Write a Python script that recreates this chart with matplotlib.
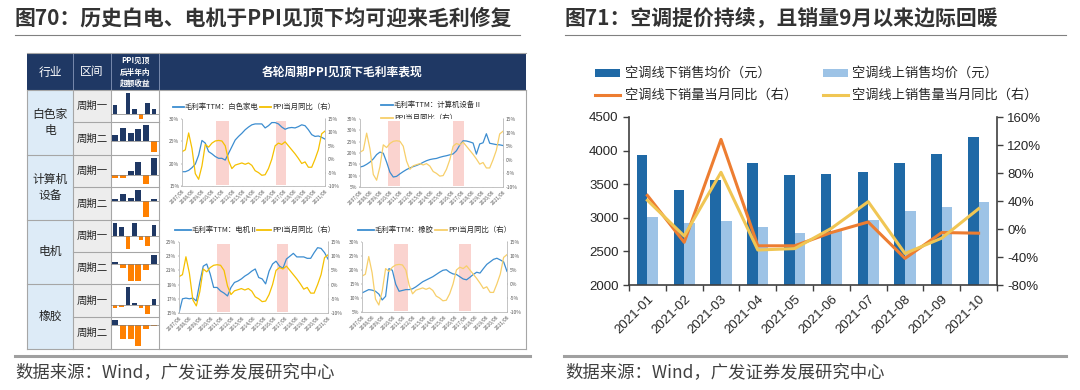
import matplotlib
matplotlib.use('Agg')
import matplotlib.pyplot as plt
import numpy as np
from matplotlib.patches import Rectangle

plt.rcParams['font.family'] = ['Noto Sans CJK SC', 'DejaVu Sans']
plt.rcParams['axes.unicode_minus'] = False

# ---------------- data: left panel ----------------
industries = ['白色家\n电', '计算机\n设备', '电机', '橡胶']
periods = ['周期一', '周期二']
# excess-return bars (PPI peak, following half year), per industry / cycle
white_c1 = [10, 0.7, 23, 6, -5, 12, 6]
white_c2 = [6, 14, 8, 13, 17, -12]
comp_c1 = [-3.5, -3.5, 5, 14, -10, 19]
comp_c2 = [2, 8, 3.5, 12, -17, 2.5]
motor_c1 = [14, 9, -15, 14, -5, -12, 12]
motor_c2 = [2, -4, -19, -19, -7, 10]
rubber_c1 = [-3, -2, 19, 1.7, -3, -10, 6]
rubber_c2 = [6, -15, -15, -23, -4, -1.3]

date_labels = ['2007/06', '2008/06', '2009/06', '2010/06', '2011/06', '2012/06',
               '2013/06', '2014/06', '2015/06', '2016/06', '2017/06', '2018/06',
               '2019/06', '2020/06', '2021/06']
# PPI yoy (%), right axis
ppi = [2.8, 3.5, 9.8, 4.0, -5.4, -7.5, -2.5, 5.5, 4.5, 6.0, 6.8, 7.0, 6.8, 5.0,
       -0.5, -3.5, -2.2, -1.8, -1.4, -1.9, -1.4, -2.3, -4.3, -5.0, -6.0, -5.8,
       -3.5, 0.0, 5.0, 6.0, 5.5, 6.5, 5.0, 3.5, 2.0, 0.3, -1.6, -1.0, -3.0,
       -3.0, 0.0, 3.5, 9.5, 10.5]
# gross margin TTM (%)
gm_white = [18.2, 18.2, 18.5, 19.1, 19.9, 21.9, 25.2, 24.6, 22.7, 22.2, 21.6,
            21.2, 21.2, 20.8, 22.3, 23.8, 25.3, 26.1, 26.8, 27.6, 28.2, 28.7,
            28.9, 28.9, 28.9, 28.0, 28.5, 29.2, 29.2, 28.9, 28.2, 27.7, 28.0,
            28.1, 28.0, 28.3, 28.7, 28.5, 27.6, 26.5, 26.1, 26.2, 25.9, 25.5]
gm_comp = [13.8, 14.2, 15.0, 16.0, 17.4, 19.3, 20.4, 19.9, 16.0, 11.5, 9.4,
           9.7, 10.8, 11.8, 12.7, 13.4, 14.0, 14.5, 15.1, 15.9, 16.6, 17.1,
           17.4, 17.6, 18.1, 18.5, 18.8, 19.2, 19.6, 21.0, 23.5, 25.4, 25.3,
           24.9, 24.4, 19.5, 24.0, 24.5, 28.5, 24.3, 24.0, 23.7, 23.6, 23.3]
gm_motor = [15.0, 17.0, 17.1, 17.0, 17.1, 16.7, 19.3, 21.6, 21.9, 20.5, 18.6,
            18.6, 18.1, 17.8, 17.4, 18.6, 19.3, 19.5, 19.8, 20.2, 20.5, 20.9,
            21.2, 20.0, 19.8, 19.1, 20.9, 21.9, 22.3, 21.6, 21.3, 22.6, 23.0,
            23.4, 22.9, 22.9, 22.9, 22.7, 22.7, 23.5, 24.2, 24.1, 23.5, 22.6]
gm_rubber = [11.8, 12.4, 13.0, 12.8, 12.4, 11.4, 9.3, 10.6, 20.5, 19.9, 14.9,
             12.4, 12.7, 13.0, 13.0, 13.3, 14.0, 14.9, 15.8, 16.4, 17.0, 17.6,
             18.4, 19.2, 19.9, 20.1, 19.2, 18.6, 18.4, 17.6, 16.8, 16.5, 17.4,
             18.4, 19.2, 18.9, 20.5, 22.0, 22.9, 23.8, 24.2, 23.6, 22.9, 19.5]

# ---------------- data: right panel ----------------
months = ['2021-01', '2021-02', '2021-03', '2021-04', '2021-05',
          '2021-06', '2021-07', '2021-08', '2021-09', '2021-10']
offline_price = [3930, 3420, 3560, 3810, 3630, 3650, 3680, 3810, 3950, 4200]
online_price = [3010, 2920, 2950, 2860, 2770, 2810, 2970, 3100, 3160, 3240]
offline_yoy = [48, -19, 128, -24, -24, -5, 10, -42, -5, -6]
online_yoy = [41, -10, 81, -30, -28, 1, 39, -35, -13, 29]

# ---------------- figure ----------------
W, H = 1080, 390
fig = plt.figure(figsize=(10.8, 3.9), dpi=100)
fig.patch.set_facecolor('white')


def px_axes(x0, y0, x1, y1):
    return fig.add_axes([x0 / W, 1 - y1 / H, (x1 - x0) / W, (y1 - y0) / H])


bg = px_axes(0, 0, W, H)
bg.set_xlim(0, W)
bg.set_ylim(H, 0)
bg.axis('off')

TITLE_C = '#333333'
bg.text(15, 18, '图70：历史白电、电机于PPI见顶下均可迎来毛利修复', fontsize=15,
        fontweight='bold', color=TITLE_C, va='center', ha='left')
bg.text(565, 18, '图71：空调提价持续，且销量9月以来边际回暖', fontsize=15,
        fontweight='bold', color=TITLE_C, va='center', ha='left')
bg.plot([15, 520], [35, 35], color='#808080', lw=0.8)
bg.plot([565, 1066], [35, 35], color='#808080', lw=0.8)
bg.plot([15, 530], [356, 356], color='#A0A0A0', lw=2.2)
bg.plot([564, 1066], [356, 356], color='#A0A0A0', lw=2.2)
bg.text(15, 372, '数据来源：Wind，广发证券发展研究中心', fontsize=12.5,
        color='#404040', va='center', ha='left')
bg.text(565, 372, '数据来源：Wind，广发证券发展研究中心', fontsize=12.5,
        color='#404040', va='center', ha='left')

# ---------------- table ----------------
NAVY = '#1F3864'
ORANGE = '#FF8000'
GRID = '#A6A6A6'
cols = [27, 73, 111, 159, 526]
rows = [90, 122, 155, 187, 220, 252, 284, 317, 349]
bg.add_patch(Rectangle((27, 53), 499, 37, fc=NAVY, ec='none'))
bg.add_patch(Rectangle((27, 90), 46, 259, fc='#DDEBF7', ec='none'))
bg.add_patch(Rectangle((73, 90), 38, 259, fc='#EDEDED', ec='none'))
for xv in cols[1:4]:
    bg.plot([xv, xv], [53, 90], color='#8596B8', lw=0.6)
for xv in cols:
    bg.plot([xv, xv], [90, 349], color=GRID, lw=0.8)
bg.plot([27, 526], [53, 53], color=GRID, lw=0.8)
bg.plot([27, 526], [349, 349], color=GRID, lw=0.8)
bg.plot([27, 526], [90, 90], color=GRID, lw=0.8)
for i, yv in enumerate(rows[1:-1]):
    x0 = 27 if i % 2 == 1 else 73
    bg.plot([x0, 159], [yv, yv], color=GRID, lw=0.8)

bg.text(50, 72, '行业', color='white', fontsize=8.5, ha='center', va='center')
bg.text(92, 72, '区间', color='white', fontsize=8.5, ha='center', va='center')
bg.text(135, 72, 'PPI见顶\n后半年内\n超额收益', color='white', fontsize=5.5,
        fontweight='bold', ha='center', va='center', linespacing=1.4)
bg.text(342, 72, '各轮周期PPI见顶下毛利率表现', color='white', fontsize=8.5,
        fontweight='bold', ha='center', va='center')

for k, name in enumerate(industries):
    yc = (rows[2 * k] + rows[2 * k + 2]) / 2
    bg.text(50, yc, name, fontsize=8.5, color='#262626', ha='center',
            va='center', linespacing=1.35)
    for j in range(2):
        yc2 = (rows[2 * k + j] + rows[2 * k + j + 1]) / 2
        bg.text(92, yc2, periods[j], fontsize=7.5, color='#262626',
                ha='center', va='center')

cells = [white_c1, white_c2, comp_c1, comp_c2, motor_c1, motor_c2,
         rubber_c1, rubber_c2]
for i, vals in enumerate(cells):
    ax = px_axes(111, rows[i] + 1.5, 159, rows[i + 1] - 1.5)
    n = len(vals)
    s = 39 / (n - 1)
    ax.set_xlim(-4 / s, n - 1 + 5 / s)
    colors = [NAVY if v >= 0 else ORANGE for v in vals]
    ax.bar(np.arange(n), vals, width=0.75, color=colors)
    lo, hi = min(0, min(vals)), max(0, max(vals))
    sp = hi - lo
    ax.set_ylim(lo - 0.05 * sp, hi + 0.05 * sp)
    ax.axhline(0, color='#7F7F7F', lw=0.5)
    ax.axis('off')

# ---------------- mini charts ----------------
BLUE_L = '#3C8DD0'
GOLD = '#F5C000'
GOLD_L = '#F7CF6A'
SHADE = '#FAD3CF'


def mini_chart(box, gm, ylo, yhi, ystep, ppi_col, shades):
    ax = px_axes(*box)
    x = np.arange(len(gm))
    for a, b in shades:
        ax.axvspan(a, b, ymin=0.02, ymax=0.97, color=SHADE, lw=0, zorder=0)
    ax.plot(x, gm, color=BLUE_L, lw=0.9, zorder=3)
    ax.set_xlim(0, len(gm) - 1)
    ax.set_ylim(ylo, yhi)
    ticks = np.arange(ylo, yhi + 0.01, ystep)
    ax.set_yticks(ticks)
    ax.set_yticklabels([f'{int(t)}%' for t in ticks])
    xt = np.linspace(0, len(gm) - 1, len(date_labels))
    ax.set_xticks(xt)
    ax.set_xticklabels(date_labels, rotation=45, ha='right',
                       rotation_mode='anchor')
    ax2 = ax.twinx()
    ax2.plot(x, ppi, color=ppi_col, lw=0.9)
    ax2.set_ylim(-10, 15)
    rt = list(range(-10, 16, 5))
    ax2.set_yticks(rt)
    ax2.set_yticklabels([f'{t}%' for t in rt])
    for a_ in (ax, ax2):
        a_.tick_params(labelsize=3.6, length=1, width=0.3, pad=1,
                       colors='#595959')
        for sname, sp in a_.spines.items():
            sp.set_color('#BFBFBF')
            sp.set_linewidth(0.5)
        a_.spines['top'].set_visible(False)
    return ax


mini_chart((182, 119, 325, 186), gm_white, 15, 30, 5, GOLD,
           [(10.2, 14.0), (28.2, 31.3)])
mini_chart((360, 119, 503, 187), gm_comp, 5, 35, 5, GOLD_L,
           [(8.3, 12.1), (27.9, 31.2)])
mini_chart((179, 242, 328, 313), gm_motor, 15, 25, 2, GOLD,
           [(11.1, 14.8), (28.2, 31.5)])
mini_chart((362, 242, 507, 312), gm_rubber, 5, 30, 5, GOLD_L,
           [(9.6, 13.7), (28.9, 32.4)])


def leg(x0, x1, y, color, label):
    bg.plot([x0, x1], [y, y], color=color, lw=1.3)
    bg.text(x1 + 1, y, label, fontsize=5.3, color='#262626', ha='left',
            va='center')


leg(173, 184, 107, BLUE_L, '毛利率TTM：白色家电')
leg(260, 271, 107, GOLD, 'PPI当月同比（右）')
leg(381, 393, 105, BLUE_L, '毛利率TTM：计算机设备Ⅱ')
leg(381, 393, 118, GOLD_L, 'PPI当月同比（右）')
leg(175, 191, 230, BLUE_L, '毛利率TTM：电机Ⅱ')
leg(257, 271, 230, GOLD, 'PPI当月同比（右）')
leg(358, 374, 230, BLUE_L, '毛利率TTM：橡胶')
leg(435, 447, 230, GOLD_L, 'PPI当月同比（右）')

# ---------------- right chart ----------------
DARK_B = '#1F69A6'
LIGHT_B = '#9DC3E6'
ORANGE_L = '#ED7D31'
YELLOW_L = '#F0C654'
AX_C = '#404040'
NUM_FONT = 'Liberation Sans'

ax = px_axes(629, 117, 997, 285)
x = np.arange(len(months))
ax.bar(x - 0.143, offline_price, width=0.285, color=DARK_B, zorder=2)
ax.bar(x + 0.143, online_price, width=0.285, color=LIGHT_B, zorder=2)
ax.set_ylim(2000, 4500)
ax.set_yticks(np.arange(2000, 4501, 500))
ax.set_xlim(-0.5, len(months) - 0.5)
ax.set_xticks(x)
ax.set_xticklabels(months, rotation=45, ha='right', rotation_mode='anchor')
ax.set_xticks(np.arange(-0.5, len(months)), minor=True)
ax.tick_params(axis='x', which='major', length=0, pad=6)
ax.tick_params(axis='x', which='minor', length=4, width=1.0, color=AX_C)
ax.tick_params(axis='y', length=4, width=1.0, color=AX_C)
for lab in ax.get_xticklabels() + ax.get_yticklabels():
    lab.set_fontfamily(NUM_FONT)
    lab.set_fontsize(9.5)
    lab.set_color('#262626')
ax.spines['top'].set_visible(False)
ax.spines['right'].set_visible(False)
for s in ('left', 'bottom'):
    ax.spines[s].set_color(AX_C)
    ax.spines[s].set_linewidth(1.2)

ax2 = ax.twinx()
ax2.plot(x, offline_yoy, color=ORANGE_L, lw=2.2, zorder=3)
ax2.plot(x, online_yoy, color=YELLOW_L, lw=2.2, zorder=4)
ax2.set_ylim(-80, 160)
rt = list(range(-80, 161, 40))
ax2.set_yticks(rt)
ax2.set_yticklabels([f'{t}%' for t in rt])
ax2.tick_params(axis='y', length=4, width=1.0, color=AX_C)
for lab in ax2.get_yticklabels():
    lab.set_fontfamily(NUM_FONT)
    lab.set_fontsize(9.5)
    lab.set_color('#262626')
ax2.spines['top'].set_visible(False)
ax2.spines['left'].set_visible(False)
ax2.spines['bottom'].set_visible(False)
ax2.spines['right'].set_color(AX_C)
ax2.spines['right'].set_linewidth(1.2)

# legend (manual)
LEG_FS = 9.5
bg.add_patch(Rectangle((595, 69), 25, 8, fc=DARK_B, ec='none'))
bg.text(625, 73, '空调线下销售均价（元）', fontsize=LEG_FS, color='#262626',
        va='center', ha='left')
bg.add_patch(Rectangle((823, 69), 25, 8, fc=LIGHT_B, ec='none'))
bg.text(852, 73, '空调线上销售均价（元）', fontsize=LEG_FS, color='#262626',
        va='center', ha='left')
bg.plot([595, 620], [95, 95], color=ORANGE_L, lw=2.2)
bg.text(625, 95, '空调线下销量当月同比（右）', fontsize=LEG_FS, color='#262626',
        va='center', ha='left')
bg.plot([823, 848], [95, 95], color=YELLOW_L, lw=2.2)
bg.text(852, 95, '空调线上销售量当月同比（右）', fontsize=LEG_FS,
        color='#262626', va='center', ha='left')

fig.savefig('out.png', dpi=100, facecolor='white')
